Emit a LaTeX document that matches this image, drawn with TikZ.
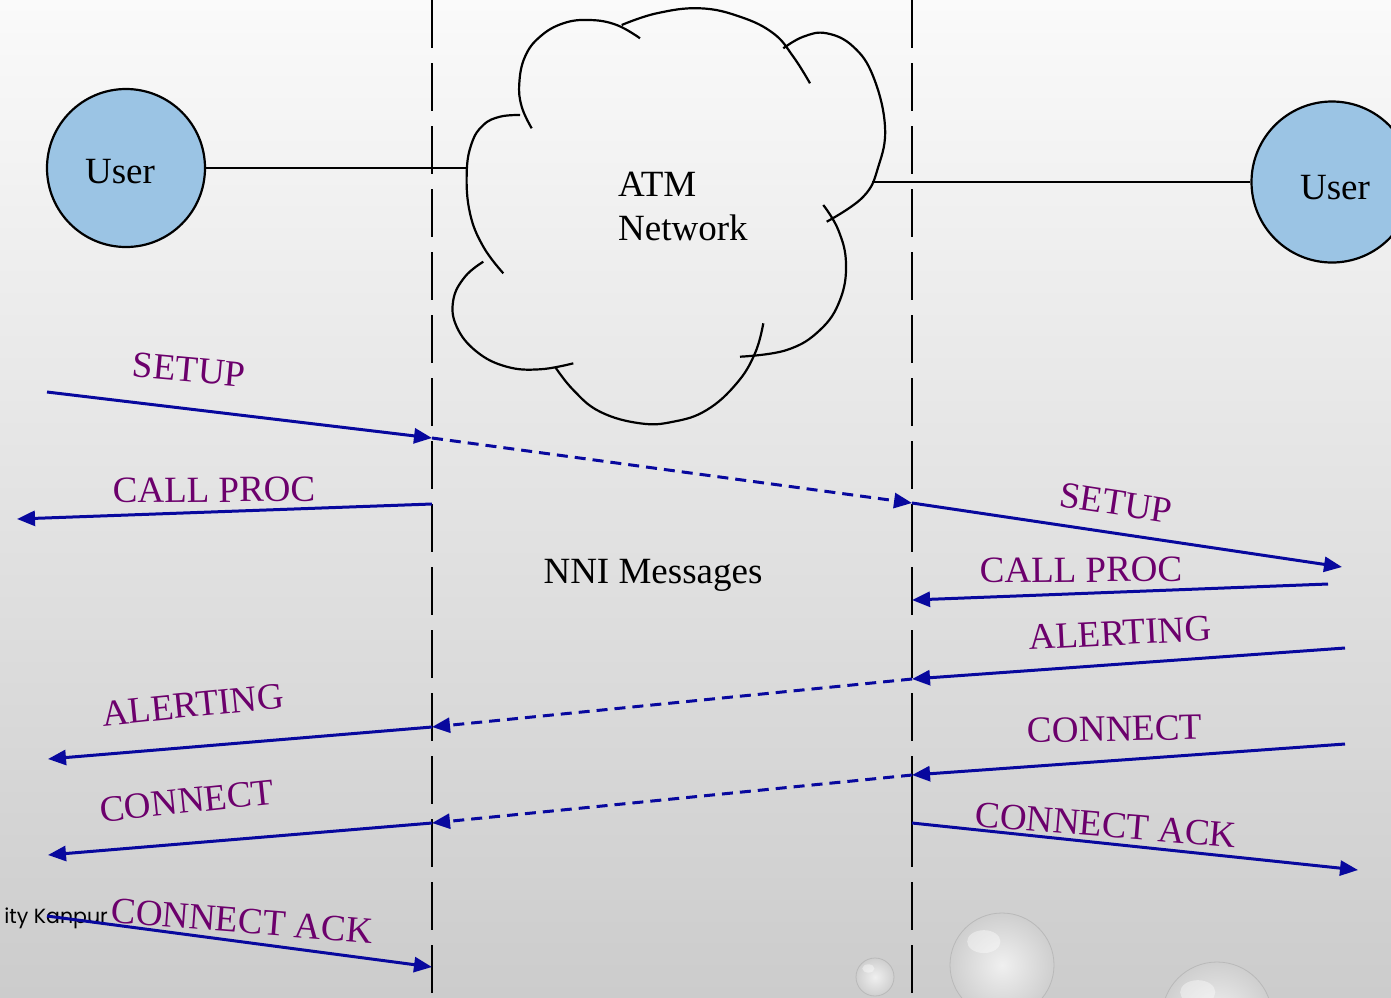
\documentclass[tikz,border=0pt]{standalone}
\usepackage{fontspec}
\setmainfont{Liberation Serif}
\newfontfamily\footfont{Poppins}
\usetikzlibrary{arrows.meta}

\definecolor{msgblue}{RGB}{8,8,158}
\definecolor{msgpurple}{RGB}{108,0,108}
\definecolor{userblue}{RGB}{155,196,228}
\definecolor{bgtop}{RGB}{250,250,250}
\definecolor{bgmid}{RGB}{232,232,232}
\definecolor{bgbot}{RGB}{204,204,204}

\begin{document}
\begin{tikzpicture}[x=1pt,y=-1pt,
  lifeline/.style={line width=2.3pt, dash pattern=on 48pt off 15pt},
  msg/.style={msgblue, line width=3pt, -{Triangle[length=18pt,width=15pt]}},
  nnimsg/.style={msg, dash pattern=on 11pt off 7pt},
  lbl/.style={msgpurple, font=\fontsize{37}{40}\selectfont, inner sep=0pt},
  plain/.style={font=\fontsize{37}{44}\selectfont, inner sep=0pt},
  userbox/.style={circle, draw, line width=2.2pt, fill=userblue, minimum size=158pt, inner sep=0pt},
  cloudline/.style={line width=2.2pt},
  link/.style={line width=2.2pt},
  bubbleedge/.style={draw=gray!55, line width=0.8pt},
]
\useasboundingbox (0,0) rectangle (1391,997);
% slide background
\shade[top color=bgtop, middle color=bgmid, bottom color=bgbot] (0,0) rectangle (1391,997);

% decorative bubbles
\foreach \bx/\by/\br in {875/977/19, 1002/965/52, 1217/1017/55}{
  \shade[inner color=gray!12, outer color=gray!38, bubbleedge] (\bx,\by) circle (\br);
  \fill[white, opacity=0.4] (\bx-0.35*\br,\by-0.45*\br) ellipse ({0.32*\br} and {0.22*\br});
}

% footer
\node[anchor=base east, font=\footfont\fontsize{20.5}{23}\selectfont, inner sep=0pt] (foot) at (108,923) {ity Kanpur};

% lifelines
\coordinate (llTop) at (432,0);  \coordinate (llBot) at (432,997);
\coordinate (lrTop) at (912,0);  \coordinate (lrBot) at (912,997);
\draw[lifeline] (llTop) -- (llBot);
\draw[lifeline] (lrTop) -- (lrBot);

% users and network cloud
\node[userbox] (userL) at (126,168) {};
\node[userbox, minimum size=161pt] (userR) at (1332,182) {};
\node[plain] (userLtxt) at (120,172) {User};
\node[plain] (userRtxt) at (1335,188) {User};

\draw[cloudline] plot[smooth, tension=0.7] coordinates {(531.7,128.3) (521.7,106.7) (519.3,83.3) (525,56.7) (540,36.7) (563.3,23.3) (590,20) (616.7,25) (640,38.3)};
\draw[cloudline] plot[smooth, tension=0.7] coordinates {(621.7,25) (656.7,13.3) (700,8.3) (740,16.7) (773.3,33.3) (793.3,56.7) (810,83.3)};
\draw[cloudline] plot[smooth, tension=0.7] coordinates {(783.3,48.3) (803.3,36.7) (826.7,33.3) (853.3,46.7) (873.3,76.7) (885,126.7) (878.3,166.7) (863.3,196.7) (826.7,221.7)};
\draw[cloudline] plot[smooth, tension=0.7] coordinates {(823.3,205) (838.3,230) (846,263.3) (840,300) (820,330) (786.7,350) (740,356.7)};
\draw[cloudline] plot[smooth, tension=0.7] coordinates {(763.3,323.3) (755,353.3) (736.7,383.3) (706.7,410) (673.3,421.7) (640,423.3) (600,411.7) (573.3,390) (555,366.7)};
\draw[cloudline] plot[smooth, tension=0.7] coordinates {(573.3,363.3) (540,369.3) (506.7,366.7) (476.7,351.7) (456.7,326.7) (453.3,300) (465,276.7) (483.3,261.7)};
\draw[cloudline] plot[smooth, tension=0.7] coordinates {(503.3,273.3) (483.3,246.7) (470,213.3) (466.7,173.3) (471.7,143.3) (483.3,125) (500,116.7) (520,115)};
\coordinate (cloudW) at (467,168);
\coordinate (cloudE) at (872,182);
\node[plain, anchor=north west, align=left] (atm) at (618,172) {ATM\\Network};

\draw[link] (userL.east) -- (cloudW);
\draw[link] (cloudE) -- (userR.west);

% message end points
\coordinate (setupA) at (47,392);   \coordinate (setupB) at (432,438);
\coordinate (setupC) at (912,503);  \coordinate (setupD) at (1342,567);
\coordinate (procLA) at (432,504);  \coordinate (procLB) at (17,519);
\coordinate (procRA) at (1328,584); \coordinate (procRB) at (912,600);
\coordinate (alertA) at (1345,648); \coordinate (alertB) at (912,679);
\coordinate (alertC) at (432,727);  \coordinate (alertD) at (48,759);
\coordinate (connA) at (1345,744);  \coordinate (connB) at (912,775);
\coordinate (connC) at (432,823);   \coordinate (connD) at (48,855);
\coordinate (ackRA) at (912,823);   \coordinate (ackRB) at (1358,870);
\coordinate (ackLA) at (47,916);    \coordinate (ackLB) at (432,967);

\draw[line width=2.3pt] (connB) -- (ackRA);

% messages
\draw[msg] (setupA) -- (setupB);
\draw[nnimsg] (setupB) -- (setupC);
\draw[msg] (setupC) -- (setupD);
\draw[msg] (procLA) -- (procLB);
\draw[msg] (procRA) -- (procRB);
\draw[msg] (alertA) -- (alertB);
\draw[nnimsg] (alertB) -- (alertC);
\draw[msg] (alertC) -- (alertD);
\draw[msg] (connA) -- (connB);
\draw[nnimsg] (connB) -- (connC);
\draw[msg] (connC) -- (connD);
\draw[msg] (ackRA) -- (ackRB);
\draw[msg] (ackLA) -- (ackLB);

% message labels
\node[lbl, rotate=-5.2] (tSetupL) at (189,370) {SETUP};
\node[lbl, rotate=0.5] (tProcL) at (214,490) {CALL PROC};
\node[lbl, rotate=-8.6] (tSetupR) at (1116,503) {SETUP};
\node[lbl, rotate=0.5] (tProcR) at (1081,570) {CALL PROC};
\node[lbl, rotate=3] (tAlertR) at (1120,633) {ALERTING};
\node[lbl, rotate=5.8] (tAlertL) at (193,705) {ALERTING};
\node[lbl, rotate=1.2] (tConnR) at (1115,729) {CONNECT};
\node[lbl, rotate=6] (tConnL) at (187,801) {CONNECT};
\node[lbl, rotate=-4.8] (tAckR) at (1106,825) {CONNECT ACK};
\node[lbl, rotate=-4.5] (tAckL) at (242,921) {CONNECT ACK};

\node[plain, anchor=base] (nni) at (653,583) {NNI Messages};
\end{tikzpicture}
\end{document}
